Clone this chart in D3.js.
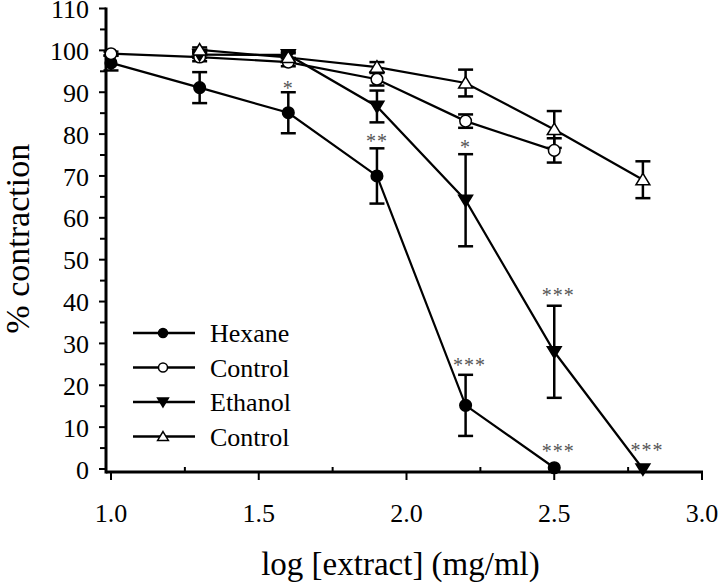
<!DOCTYPE html>
<html>
  <head>
    <meta charset="utf-8">
    <script src="https://d3js.org/d3.v7.min.js"></script>
  </head>
  <body style="margin:0">
  <script>
    // data
    var hexX = [1.0, 1.3, 1.6, 1.9, 2.2, 2.5];
    var hexane = [97.0, 91.1, 85.1, 70.0, 15.2, 0.3];
    var hexaneErr = [1.8, 3.7, 4.9, 6.6, 7.3, 0];
    var hexCtrl = [99.2, 98.4, 97.2, 93.1, 83.1, 76.1];
    var hexCtrlErr = [0.5, 1.0, 1.0, 1.5, 1.6, 2.9];

    var ethX = [1.3, 1.6, 1.9, 2.2, 2.5, 2.8];
    var ethanol = [99.0, 98.9, 86.6, 64.2, 28.0, 0];
    var ethanolErr = [0.8, 0.8, 3.8, 11.0, 11.0, 0];
    var ethCtrl = [100.1, 98.3, 96.0, 92.2, 81.1, 69.1];
    var ethCtrlErr = [0.6, 1.0, 1.2, 3.2, 4.4, 4.4];

    // significance marks: [x, y, text]
    var stars = [[1.6, 91.7, "*"], [1.9, 79.1, "**"], [2.2, 77.6, "*"], [2.5, 42.3, "***"],
                 [2.2, 25.6, "***"], [2.5, 5.0, "***"], [2.8, 5.3, "***"]];

    var xTicks = [1.0, 1.5, 2.0, 2.5, 3.0];
    var xMinor = [1.25, 1.75, 2.25, 2.75];
    var yTicks = [0, 10, 20, 30, 40, 50, 60, 70, 80, 90, 100, 110];
    var yMinor = [5, 15, 25, 35, 45, 55, 65, 75, 85, 95, 105];

    var width = 719, height = 585;
    var axisX = 106, axisY = 472;

    var x = d3.scaleLinear().domain([1, 3]).range([111, 702]);
    var y = d3.scaleLinear().domain([0, 110]).range([469, 8.5]);

    var svg = d3.select("body").append("svg")
      .attr("width", width)
      .attr("height", height)
      .attr("font-family", "Liberation Serif");

    function txt(sel, size) {
      return sel.attr("font-family", "Liberation Serif").attr("font-size", size);
    }

    // y axis
    var yAxis = svg.append("g").attr("transform", "translate(" + axisX + ",0)");
    yAxis.selectAll(".maj").data(yTicks).enter().append("line")
      .attr("x1", -7).attr("x2", 0)
      .attr("y1", function(d) { return y(d); }).attr("y2", function(d) { return y(d); })
      .attr("stroke", "#000").attr("stroke-width", 2);
    yAxis.selectAll(".min").data(yMinor).enter().append("line")
      .attr("x1", -6).attr("x2", 0)
      .attr("y1", function(d) { return y(d); }).attr("y2", function(d) { return y(d); })
      .attr("stroke", "#000").attr("stroke-width", 2);
    txt(yAxis.selectAll(".ylbl").data(yTicks).enter().append("text"), 26)
      .attr("x", -17)
      .attr("y", function(d) { return y(d); })
      .attr("dy", "0.37em")
      .attr("text-anchor", "end")
      .text(function(d) { return d; });
    yAxis.append("line")
      .attr("x1", 0).attr("x2", 0).attr("y1", y(110) - 1).attr("y2", axisY + 1.5)
      .attr("stroke", "#000").attr("stroke-width", 3);

    // x axis
    var xAxis = svg.append("g").attr("transform", "translate(0," + axisY + ")");
    xAxis.append("line")
      .attr("x1", axisX).attr("x2", x(3) + 1).attr("y1", 0).attr("y2", 0)
      .attr("stroke", "#000").attr("stroke-width", 3);
    xAxis.selectAll(".major").data(xTicks).enter().append("line")
      .attr("x1", function(d) { return x(d); }).attr("x2", function(d) { return x(d); })
      .attr("y1", 0).attr("y2", 8)
      .attr("stroke", "#000").attr("stroke-width", 2);
    xAxis.selectAll(".minor").data(xMinor).enter().append("line")
      .attr("x1", function(d) { return x(d); }).attr("x2", function(d) { return x(d); })
      .attr("y1", 0).attr("y2", -5)
      .attr("stroke", "#000").attr("stroke-width", 2);
    txt(xAxis.selectAll(".lbl").data(xTicks).enter().append("text"), 26)
      .attr("x", function(d) { return x(d); })
      .attr("y", 50)
      .attr("text-anchor", "middle")
      .text(function(d) { return d.toFixed(1); });

    // axis titles
    txt(svg.append("text"), 33)
      .attr("x", (x(1) + x(3)) / 2 - 6).attr("y", 575)
      .attr("text-anchor", "middle")
      .text("log [extract] (mg/ml)");
    txt(svg.append("text"), 34)
      .attr("transform", "translate(29," + y(55) + ") rotate(-90)")
      .attr("text-anchor", "middle")
      .text("% contraction");

    var series = [
      {xs: hexX, ys: hexane, err: hexaneErr, sym: "circle", fill: "#000"},
      {xs: hexX, ys: hexCtrl, err: hexCtrlErr, sym: "circle", fill: "#fff"},
      {xs: ethX, ys: ethanol, err: ethanolErr, sym: "down", fill: "#000"},
      {xs: ethX, ys: ethCtrl, err: ethCtrlErr, sym: "up", fill: "#fff"}
    ];

    var line = d3.line()
      .x(function(d) { return x(d[0]); })
      .y(function(d) { return y(d[1]); });

    function pts(s) {
      return s.xs.map(function(v, i) { return [v, s.ys[i], s.err[i]]; });
    }

    function drawSym(g, sym, fill, r) {
      if (sym == "circle") {
        g.append("circle").attr("r", r)
          .attr("fill", fill).attr("stroke", "#000").attr("stroke-width", 1.5);
      } else {
        var h = r * 1.1;
        var p = sym == "up"
          ? [[0, -h], [r * 1.2, h * 0.8], [-r * 1.2, h * 0.8]]
          : [[0, h], [r * 1.2, -h * 0.8], [-r * 1.2, -h * 0.8]];
        g.append("path").attr("d", "M" + p.join("L") + "Z")
          .attr("fill", fill).attr("stroke", "#000").attr("stroke-width", 1.5);
      }
    }

    // lines
    series.forEach(function(s) {
      svg.append("path").datum(pts(s))
        .attr("d", line)
        .attr("fill", "none").attr("stroke", "#000").attr("stroke-width", 2.2);
    });

    // error bars
    series.forEach(function(s) {
      var eb = svg.append("g").selectAll("g").data(pts(s).filter(function(d) { return d[2] > 0; }))
        .enter().append("g");
      eb.append("line")
        .attr("x1", function(d) { return x(d[0]); }).attr("x2", function(d) { return x(d[0]); })
        .attr("y1", function(d) { return y(d[1] + d[2]); }).attr("y2", function(d) { return y(d[1] - d[2]); })
        .attr("stroke", "#000").attr("stroke-width", 2.5);
      [1, -1].forEach(function(sg) {
        eb.append("line")
          .attr("x1", function(d) { return x(d[0]) - 7.5; }).attr("x2", function(d) { return x(d[0]) + 7.5; })
          .attr("y1", function(d) { return y(d[1] + sg * d[2]); }).attr("y2", function(d) { return y(d[1] + sg * d[2]); })
          .attr("stroke", "#000").attr("stroke-width", 2.5);
      });
    });

    // markers
    series.forEach(function(s) {
      pts(s).forEach(function(d) {
        var g = svg.append("g").attr("transform", "translate(" + x(d[0]) + "," + y(d[1]) + ")");
        drawSym(g, s.sym, s.fill, 5.8);
      });
    });

    // significance stars
    txt(svg.selectAll(".star").data(stars).enter().append("text"), 20)
      .attr("x", function(d) { return x(d[0]) + (d[2].length == 3 ? 4 : 0); })
      .attr("y", function(d) { return y(d[1]) + 10; })
      .attr("text-anchor", "middle")
      .attr("fill", "#555")
      .attr("letter-spacing", 1)
      .text(function(d) { return d[2]; });

    // legend
    var legNames = ["Hexane", "Control", "Ethanol", "Control"];
    var leg = svg.append("g").attr("transform", "translate(133,333)");
    legNames.forEach(function(n, i) {
      var row = leg.append("g").attr("transform", "translate(0," + (i * 34.5) + ")");
      row.append("line").attr("x1", 0).attr("x2", 62).attr("y1", 0).attr("y2", 0)
        .attr("stroke", "#000").attr("stroke-width", 2.5);
      var m = row.append("g").attr("transform", "translate(30,0)");
      drawSym(m, series[i].sym, series[i].fill, 4.5);
      txt(row.append("text"), 26).attr("x", 77).attr("y", 9).text(n);
    });
  </script>
  </body>
</html>
